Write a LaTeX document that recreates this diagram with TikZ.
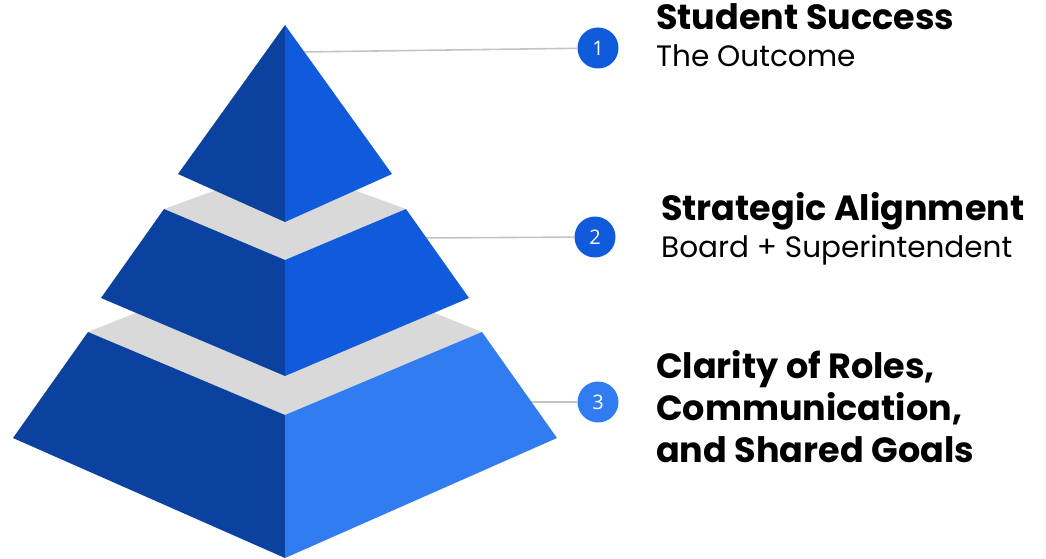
\documentclass[tikz,border=0pt]{standalone}
\usepackage{fontspec}
\newfontfamily\popfont{Poppins}
\newfontfamily\numfont{Open Sans}
\definecolor{pdark}{HTML}{0B42A0}
\definecolor{pmid}{HTML}{0F5BDC}
\definecolor{plight}{HTML}{327CF2}
\definecolor{pgray}{HTML}{D9D9D9}
\definecolor{pline}{HTML}{C4C4C4}
\tikzset{
  numcircle/.style={circle,minimum size=41pt,inner sep=0pt,text=white,font=\numfont\fontsize{20}{20}\selectfont},
  leader/.style={draw=pline,line width=1.6pt},
  headtext/.style={anchor=base west,inner sep=0pt,font=\popfont\bfseries\fontsize{35}{42}\selectfont,align=left},
  subtext/.style={anchor=base west,inner sep=0pt,font=\popfont\fontsize{29.5}{29.5}\selectfont},
}
\begin{document}
\begin{tikzpicture}[x=1pt,y=-1pt]
\useasboundingbox (0,0) rectangle (1046,559);
% leader lines
\node[numcircle,fill=pmid] (c1) at (598,48) {1};
\node[numcircle,fill=pmid] (c2) at (595,237) {2};
\node[numcircle,fill=plight] (c3) at (598,402) {3};
\coordinate (s1) at (300,52);
\coordinate (s2) at (420,238);
\coordinate (s3) at (525,402);
\draw[leader] (s1) -- (c1);
\draw[leader] (s2) -- (c2);
\draw[leader] (s3) -- (c3);
% bottom tier
\fill[pgray] (88,332) -- (285,253) -- (482,332) -- (285,415) -- cycle;
\fill[pdark] (88,332) -- (285,415) -- (285,558) -- (13,438) -- cycle;
\fill[plight] (482,332) -- (285,415) -- (285,558) -- (557,438) -- cycle;
% middle tier
\fill[pgray] (164,209) -- (285,165) -- (406,209) -- (285,260) -- cycle;
\fill[pdark] (164,209) -- (285,260) -- (285,376) -- (101,298) -- cycle;
\fill[pmid] (406,209) -- (285,260) -- (285,376) -- (469,298) -- cycle;
% top piece
\fill[pdark] (285,25) -- (178,174) -- (285,222) -- cycle;
\fill[pmid] (285,25) -- (392,174) -- (285,222) -- cycle;
% texts
\node[headtext] (t1) at (656,30) {Student Success};
\node[subtext] (u1) at (656,67) {The Outcome};
\node[headtext] (t2) at (661,220) {Strategic Alignment};
\node[subtext] (u2) at (661,257) {Board + Superintendent};
\node[headtext] (t3) at (656,462) {Clarity of Roles,\\Communication,\\and Shared Goals};
\end{tikzpicture}
\end{document}
